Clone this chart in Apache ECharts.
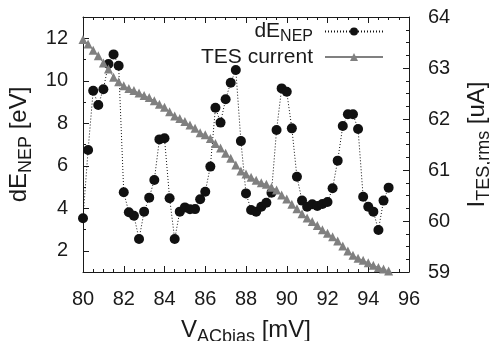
<!DOCTYPE html>
<html>
<head>
<meta charset="utf-8">
<script src="https://cdn.jsdelivr.net/npm/echarts@6/dist/echarts.min.js"></script>
<style>
  html, body { margin: 0; padding: 0; background: #fff; }
  #chart { width: 490px; height: 341px; }
</style>
</head>
<body>
<div id="chart"></div>
<script>
// bias voltage [mV], one point every 0.25 mV
const vBias = [80, 80.25, 80.5, 80.75, 81, 81.25, 81.5, 81.75, 82, 82.25, 82.5, 82.75,
  83, 83.25, 83.5, 83.75, 84, 84.25, 84.5, 84.75, 85, 85.25, 85.5, 85.75,
  86, 86.25, 86.5, 86.75, 87, 87.25, 87.5, 87.75, 88, 88.25, 88.5, 88.75,
  89, 89.25, 89.5, 89.75, 90, 90.25, 90.5, 90.75, 91, 91.25, 91.5, 91.75,
  92, 92.25, 92.5, 92.75, 93, 93.25, 93.5, 93.75, 94, 94.25, 94.5, 94.75, 95];

// dE_NEP [eV]
const dENep = [3.53, 6.74, 9.53, 8.86, 9.60, 10.79, 11.24, 10.71, 4.75, 3.81, 3.65, 2.55,
  3.84, 4.50, 5.33, 7.24, 7.29, 4.47, 2.55, 3.84, 4.04, 3.95, 3.96, 4.42,
  4.78, 5.96, 8.73, 8.03, 9.13, 9.91, 10.51, 7.16, 4.70, 3.92, 3.84, 4.07,
  4.26, 4.73, 7.68, 9.64, 9.48, 7.76, 5.48, 4.36, 4.07, 4.19, 4.11, 4.20,
  4.29, 4.94, 6.24, 7.87, 8.42, 8.42, 7.73, 4.54, 4.07, 3.84, 2.98, 4.36, 4.97];

// TES current [uA]
const tesCurrent = [63.56, 63.47, 63.35, 63.24, 63.10, 62.98, 62.82, 62.73, 62.65, 62.60, 62.56, 62.51,
  62.46, 62.42, 62.36, 62.29, 62.23, 62.14, 62.06, 62.01, 61.95, 61.88, 61.82, 61.73,
  61.69, 61.62, 61.52, 61.43, 61.33, 61.23, 61.10, 60.98, 60.92, 60.86, 60.80, 60.75,
  60.72, 60.66, 60.61, 60.51, 60.43, 60.33, 60.24, 60.14, 60.06, 59.99, 59.91, 59.83,
  59.76, 59.69, 59.61, 59.51, 59.41, 59.33, 59.27, 59.23, 59.18, 59.13, 59.09, 59.06, 59.02];

const leftMajor = [2, 4, 6, 8, 10, 12];
const leftMinor = [1, 3, 5, 7, 9, 11, 13];

const FONT = 'Liberation Sans';
const INK = '#1a1a1a';
const GREY = '#808080';

const chart = echarts.init(document.getElementById('chart'), null, { renderer: 'canvas' });

const axisLine = { show: true, lineStyle: { color: INK, width: 1 } };
const tickStyle = { color: INK, width: 1 };

// rich text used by the axis titles: main text + lowered subscript
const titleRich = {
  m: { fontFamily: FONT, fontSize: 24, color: INK },
  s: { fontFamily: FONT, fontSize: 18, color: INK, padding: [13, 0, 0, 0] },
};

const xCommon = {
  type: 'value', min: 80, max: 96, interval: 2,
  axisLine,
  axisTick: { show: true, inside: true, length: 6, lineStyle: tickStyle },
  minorTick: { show: true, splitNumber: 4, length: 3, lineStyle: tickStyle },
  splitLine: { show: false },
  minorSplitLine: { show: false },
};

chart.setOption({
  animation: false,
  backgroundColor: '#fff',
  textStyle: { fontFamily: FONT, color: INK },
  grid: { left: 83, right: 81, top: 17, bottom: 69, containLabel: false, outerBoundsMode: 'none' },
  legend: {
    orient: 'vertical',
    right: 101,
    top: 16,
    align: 'right',
    itemWidth: 58,
    itemHeight: 10,
    itemGap: 2,
    selectedMode: false,
    textStyle: {
      fontFamily: FONT, fontSize: 21, color: INK,
      rich: {
        m: { fontFamily: FONT, fontSize: 21, color: INK },
        s: { fontFamily: FONT, fontSize: 16, color: INK, padding: [10, 0, 0, 0] },
        g: { width: 7 },
      },
    },
    formatter: (name) => name === 'dE' ? '{m|dE}{s|NEP}{g|}' : '{m|' + name + '}{g|}',
    data: ['dE', 'TES current'],
  },
  xAxis: [
    Object.assign({}, xCommon, {
      position: 'bottom',
      axisLabel: { show: true, fontFamily: FONT, fontSize: 20, color: INK, margin: 17 },
      name: '{m|V}{s|ACbias}{m| [mV]}',
      nameLocation: 'middle',
      nameGap: 43,
      nameTextStyle: { rich: titleRich },
    }),
    Object.assign({}, xCommon, {
      position: 'top',
      axisLabel: { show: false },
    }),
  ],
  yAxis: [
    {
      type: 'value', min: 1, max: 13, position: 'left',
      axisLine,
      axisTick: { show: true, inside: true, length: 6, lineStyle: tickStyle, customValues: leftMajor },
      axisLabel: { show: true, fontFamily: FONT, fontSize: 20, color: INK, margin: 15, customValues: leftMajor },
      splitLine: { show: false },
      name: '{m|dE}{s|NEP}{m| [eV]}',
      nameLocation: 'middle',
      nameRotate: 90,
      nameGap: 43,
      nameTextStyle: { rich: titleRich },
    },
    {
      type: 'value', min: 59, max: 64, interval: 1, position: 'right',
      axisLine,
      axisTick: { show: true, inside: true, length: 6, lineStyle: tickStyle },
      minorTick: { show: true, splitNumber: 4, length: 3, lineStyle: tickStyle },
      axisLabel: { show: true, fontFamily: FONT, fontSize: 20, color: INK, margin: 19 },
      splitLine: { show: false },
      minorSplitLine: { show: false },
      name: '{m|I}{s|TES,rms}{m| [uA]}',
      nameLocation: 'middle',
      nameRotate: 90,
      nameGap: 53,
      nameTextStyle: { rich: titleRich },
    },
    {
      type: 'value', min: 1, max: 13, position: 'left',
      axisLine: { show: false },
      axisTick: { show: true, inside: true, length: 3, lineStyle: tickStyle, customValues: leftMinor },
      axisLabel: { show: false },
      splitLine: { show: false },
    },
  ],
  series: [
    {
      name: 'dE',
      type: 'line',
      xAxisIndex: 0,
      yAxisIndex: 0,
      data: vBias.map((v, i) => [v, dENep[i]]),
      symbol: 'circle',
      symbolSize: 10,
      showAllSymbol: true,
      itemStyle: { color: '#111' },
      lineStyle: { color: '#111', width: 1, type: [1, 2] },
      z: 3,
    },
    {
      name: 'TES current',
      type: 'line',
      xAxisIndex: 0,
      yAxisIndex: 1,
      data: vBias.map((v, i) => [v, tesCurrent[i]]),
      symbol: 'triangle',
      symbolSize: 9,
      showAllSymbol: true,
      itemStyle: { color: GREY },
      lineStyle: { color: GREY, width: 1 },
      z: 4,
    },
  ],
});
</script>
</body>
</html>
